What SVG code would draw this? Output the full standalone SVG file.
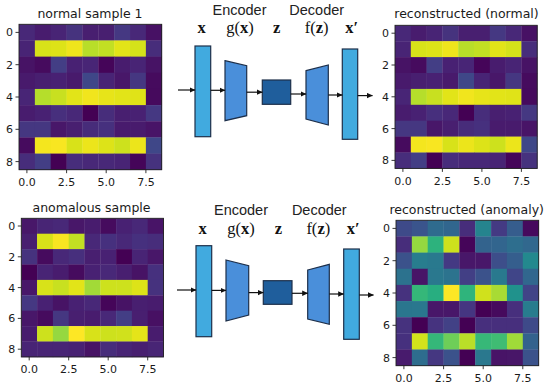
<svg xmlns="http://www.w3.org/2000/svg" width="550" height="387" viewBox="0 0 550 387">
<style>
.title{font-family:"DejaVu Sans",sans-serif;font-size:12.5px;fill:#1a1a1a;text-anchor:middle}
.tk{font-family:"DejaVu Sans",sans-serif;font-size:11px;fill:#1a1a1a}
.tky{text-anchor:end}
.tkx{text-anchor:middle}
.frame{fill:none;stroke:#222;stroke-width:0.9}
.tick{stroke:#222;stroke-width:0.9}
.lbl{font-family:"Liberation Sans",Arial,sans-serif;font-size:14.5px;fill:#222;text-anchor:middle}
.sym{font-family:"Liberation Serif","Times New Roman",serif;font-size:16.5px;fill:#111;text-anchor:middle}
.b{font-weight:bold}
.inp{fill:#41aadf;stroke:#1d2f4a;stroke-width:1.2}
.enc{fill:#4a8fda;stroke:#1d2f4a;stroke-width:1.2}
.lat{fill:#1f5e9c;stroke:#1d2f4a;stroke-width:1.2}
.arr{stroke:#111;stroke-width:1.2;fill:none;marker-end:url(#ah)}
</style>
<defs>
<marker id="ah" markerWidth="6" markerHeight="6" refX="5.5" refY="3" orient="auto" markerUnits="userSpaceOnUse">
<path d="M0,0.3 L5.8,3 L0,5.7 z" fill="#111"/>
</marker>
<g id="normalCells">
<rect x="0" y="0" width="1.02" height="1.02" fill="#482878"/><rect x="1" y="0" width="1.02" height="1.02" fill="#481c6e"/><rect x="2" y="0" width="1.02" height="1.02" fill="#482475"/><rect x="3" y="0" width="1.02" height="1.02" fill="#46337e"/><rect x="4" y="0" width="1.02" height="1.02" fill="#481f70"/><rect x="5" y="0" width="1.02" height="1.02" fill="#481f70"/><rect x="6" y="0" width="1.02" height="1.02" fill="#453882"/><rect x="7" y="0" width="1.02" height="1.02" fill="#482878"/><rect x="8" y="0" width="1.02" height="1.02" fill="#471164"/>
<rect x="0" y="1" width="1.02" height="1.02" fill="#482475"/><rect x="1" y="1" width="1.02" height="1.02" fill="#d8e219"/><rect x="2" y="1" width="1.02" height="1.02" fill="#dde318"/><rect x="3" y="1" width="1.02" height="1.02" fill="#efe51c"/><rect x="4" y="1" width="1.02" height="1.02" fill="#b8de29"/><rect x="5" y="1" width="1.02" height="1.02" fill="#c2df23"/><rect x="6" y="1" width="1.02" height="1.02" fill="#e2e418"/><rect x="7" y="1" width="1.02" height="1.02" fill="#d5e21a"/><rect x="8" y="1" width="1.02" height="1.02" fill="#472d7b"/>
<rect x="0" y="2" width="1.02" height="1.02" fill="#471365"/><rect x="1" y="2" width="1.02" height="1.02" fill="#460b5e"/><rect x="2" y="2" width="1.02" height="1.02" fill="#433e85"/><rect x="3" y="2" width="1.02" height="1.02" fill="#482173"/><rect x="4" y="2" width="1.02" height="1.02" fill="#482576"/><rect x="5" y="2" width="1.02" height="1.02" fill="#450559"/><rect x="6" y="2" width="1.02" height="1.02" fill="#481c6e"/><rect x="7" y="2" width="1.02" height="1.02" fill="#482475"/><rect x="8" y="2" width="1.02" height="1.02" fill="#471365"/>
<rect x="0" y="3" width="1.02" height="1.02" fill="#481a6c"/><rect x="1" y="3" width="1.02" height="1.02" fill="#481f70"/><rect x="2" y="3" width="1.02" height="1.02" fill="#482173"/><rect x="3" y="3" width="1.02" height="1.02" fill="#481a6c"/><rect x="4" y="3" width="1.02" height="1.02" fill="#3f4788"/><rect x="5" y="3" width="1.02" height="1.02" fill="#482475"/><rect x="6" y="3" width="1.02" height="1.02" fill="#481769"/><rect x="7" y="3" width="1.02" height="1.02" fill="#453781"/><rect x="8" y="3" width="1.02" height="1.02" fill="#460b5e"/>
<rect x="0" y="4" width="1.02" height="1.02" fill="#482576"/><rect x="1" y="4" width="1.02" height="1.02" fill="#b5de2b"/><rect x="2" y="4" width="1.02" height="1.02" fill="#c8e020"/><rect x="3" y="4" width="1.02" height="1.02" fill="#e2e418"/><rect x="4" y="4" width="1.02" height="1.02" fill="#f1e51d"/><rect x="5" y="4" width="1.02" height="1.02" fill="#e7e419"/><rect x="6" y="4" width="1.02" height="1.02" fill="#e2e418"/><rect x="7" y="4" width="1.02" height="1.02" fill="#e0e318"/><rect x="8" y="4" width="1.02" height="1.02" fill="#460a5d"/>
<rect x="0" y="5" width="1.02" height="1.02" fill="#481c6e"/><rect x="1" y="5" width="1.02" height="1.02" fill="#482173"/><rect x="2" y="5" width="1.02" height="1.02" fill="#472f7d"/><rect x="3" y="5" width="1.02" height="1.02" fill="#482878"/><rect x="4" y="5" width="1.02" height="1.02" fill="#440154"/><rect x="5" y="5" width="1.02" height="1.02" fill="#472d7b"/><rect x="6" y="5" width="1.02" height="1.02" fill="#481f70"/><rect x="7" y="5" width="1.02" height="1.02" fill="#482173"/><rect x="8" y="5" width="1.02" height="1.02" fill="#453882"/>
<rect x="0" y="6" width="1.02" height="1.02" fill="#453781"/><rect x="1" y="6" width="1.02" height="1.02" fill="#453781"/><rect x="2" y="6" width="1.02" height="1.02" fill="#481769"/><rect x="3" y="6" width="1.02" height="1.02" fill="#481f70"/><rect x="4" y="6" width="1.02" height="1.02" fill="#472c7a"/><rect x="5" y="6" width="1.02" height="1.02" fill="#46307e"/><rect x="6" y="6" width="1.02" height="1.02" fill="#481b6d"/><rect x="7" y="6" width="1.02" height="1.02" fill="#481b6d"/><rect x="8" y="6" width="1.02" height="1.02" fill="#481467"/>
<rect x="0" y="7" width="1.02" height="1.02" fill="#460b5e"/><rect x="1" y="7" width="1.02" height="1.02" fill="#f4e61e"/><rect x="2" y="7" width="1.02" height="1.02" fill="#f8e621"/><rect x="3" y="7" width="1.02" height="1.02" fill="#d8e219"/><rect x="4" y="7" width="1.02" height="1.02" fill="#ece51b"/><rect x="5" y="7" width="1.02" height="1.02" fill="#dde318"/><rect x="6" y="7" width="1.02" height="1.02" fill="#cde11d"/><rect x="7" y="7" width="1.02" height="1.02" fill="#ece51b"/><rect x="8" y="7" width="1.02" height="1.02" fill="#3f4788"/>
<rect x="0" y="8" width="1.02" height="1.02" fill="#472d7b"/><rect x="1" y="8" width="1.02" height="1.02" fill="#433e85"/><rect x="2" y="8" width="1.02" height="1.02" fill="#440154"/><rect x="3" y="8" width="1.02" height="1.02" fill="#472d7b"/><rect x="4" y="8" width="1.02" height="1.02" fill="#482878"/><rect x="5" y="8" width="1.02" height="1.02" fill="#482878"/><rect x="6" y="8" width="1.02" height="1.02" fill="#482475"/><rect x="7" y="8" width="1.02" height="1.02" fill="#450559"/><rect x="8" y="8" width="1.02" height="1.02" fill="#46327e"/>
</g>
</defs>
<rect width="550" height="387" fill="#fff"/>

<!-- Top-left heatmap -->
<g id="normal-sample">
<text class="title" x="90" y="17.5">normal sample 1</text>
<use href="#normalCells" transform="translate(19,24.3) scale(15.86,16.16)"/>
<rect class="frame" x="19" y="24.3" width="142.7" height="145.4"/>
<g class="tick">
<line x1="15.5" y1="32.4" x2="19" y2="32.4"/><line x1="15.5" y1="64.7" x2="19" y2="64.7"/><line x1="15.5" y1="97" x2="19" y2="97"/><line x1="15.5" y1="129.3" x2="19" y2="129.3"/><line x1="15.5" y1="161.6" x2="19" y2="161.6"/>
<line x1="26.9" y1="169.7" x2="26.9" y2="173.2"/><line x1="66.6" y1="169.7" x2="66.6" y2="173.2"/><line x1="106.2" y1="169.7" x2="106.2" y2="173.2"/><line x1="145.9" y1="169.7" x2="145.9" y2="173.2"/>
</g>
<text class="tk tky" x="13" y="36.4">0</text><text class="tk tky" x="13" y="68.7">2</text><text class="tk tky" x="13" y="101">4</text><text class="tk tky" x="13" y="133.3">6</text><text class="tk tky" x="13" y="165.6">8</text>
<text class="tk tkx" x="26.9" y="185.5">0.0</text><text class="tk tkx" x="66.6" y="185.5">2.5</text><text class="tk tkx" x="106.2" y="185.5">5.0</text><text class="tk tkx" x="145.9" y="185.5">7.5</text>
</g>

<!-- Top-right heatmap -->
<g id="reconstructed-normal">
<text class="title" x="466.5" y="18.3">reconstructed (normal)</text>
<use href="#normalCells" transform="translate(395,25.3) scale(15.8,15.9)"/>
<rect class="frame" x="395" y="25.3" width="142.2" height="143.1"/>
<g class="tick">
<line x1="391.5" y1="33.2" x2="395" y2="33.2"/><line x1="391.5" y1="65" x2="395" y2="65"/><line x1="391.5" y1="96.8" x2="395" y2="96.8"/><line x1="391.5" y1="128.6" x2="395" y2="128.6"/><line x1="391.5" y1="160.4" x2="395" y2="160.4"/>
<line x1="402.9" y1="168.4" x2="402.9" y2="171.9"/><line x1="442.4" y1="168.4" x2="442.4" y2="171.9"/><line x1="481.9" y1="168.4" x2="481.9" y2="171.9"/><line x1="521.4" y1="168.4" x2="521.4" y2="171.9"/>
</g>
<text class="tk tky" x="389" y="37.2">0</text><text class="tk tky" x="389" y="69">2</text><text class="tk tky" x="389" y="100.8">4</text><text class="tk tky" x="389" y="132.6">6</text><text class="tk tky" x="389" y="164.4">8</text>
<text class="tk tkx" x="402.9" y="184.5">0.0</text><text class="tk tkx" x="442.4" y="184.5">2.5</text><text class="tk tkx" x="481.9" y="184.5">5.0</text><text class="tk tkx" x="521.4" y="184.5">7.5</text>
</g>

<!-- Bottom-left heatmap -->
<g id="anomalous-sample">
<text class="title" x="91.5" y="211.7">anomalous sample</text>
<g transform="translate(21.3,218.3) scale(15.8,15.4)">
<rect x="0" y="0" width="1.02" height="1.02" fill="#481769"/><rect x="1" y="0" width="1.02" height="1.02" fill="#482575"/><rect x="2" y="0" width="1.02" height="1.02" fill="#482878"/><rect x="3" y="0" width="1.02" height="1.02" fill="#481769"/><rect x="4" y="0" width="1.02" height="1.02" fill="#481c6e"/><rect x="5" y="0" width="1.02" height="1.02" fill="#460b5e"/><rect x="6" y="0" width="1.02" height="1.02" fill="#482173"/><rect x="7" y="0" width="1.02" height="1.02" fill="#482878"/><rect x="8" y="0" width="1.02" height="1.02" fill="#481467"/>
<rect x="0" y="1" width="1.02" height="1.02" fill="#481f70"/><rect x="1" y="1" width="1.02" height="1.02" fill="#d8e219"/><rect x="2" y="1" width="1.02" height="1.02" fill="#f8e621"/><rect x="3" y="1" width="1.02" height="1.02" fill="#c2df23"/><rect x="4" y="1" width="1.02" height="1.02" fill="#482878"/><rect x="5" y="1" width="1.02" height="1.02" fill="#46307e"/><rect x="6" y="1" width="1.02" height="1.02" fill="#482878"/><rect x="7" y="1" width="1.02" height="1.02" fill="#46307e"/><rect x="8" y="1" width="1.02" height="1.02" fill="#472d7b"/>
<rect x="0" y="2" width="1.02" height="1.02" fill="#46327e"/><rect x="1" y="2" width="1.02" height="1.02" fill="#460b5e"/><rect x="2" y="2" width="1.02" height="1.02" fill="#482878"/><rect x="3" y="2" width="1.02" height="1.02" fill="#472f7d"/><rect x="4" y="2" width="1.02" height="1.02" fill="#481f70"/><rect x="5" y="2" width="1.02" height="1.02" fill="#482173"/><rect x="6" y="2" width="1.02" height="1.02" fill="#440154"/><rect x="7" y="2" width="1.02" height="1.02" fill="#482475"/><rect x="8" y="2" width="1.02" height="1.02" fill="#481769"/>
<rect x="0" y="3" width="1.02" height="1.02" fill="#440154"/><rect x="1" y="3" width="1.02" height="1.02" fill="#482475"/><rect x="2" y="3" width="1.02" height="1.02" fill="#481c6e"/><rect x="3" y="3" width="1.02" height="1.02" fill="#460b5e"/><rect x="4" y="3" width="1.02" height="1.02" fill="#482173"/><rect x="5" y="3" width="1.02" height="1.02" fill="#482878"/><rect x="6" y="3" width="1.02" height="1.02" fill="#481f70"/><rect x="7" y="3" width="1.02" height="1.02" fill="#471365"/><rect x="8" y="3" width="1.02" height="1.02" fill="#46307e"/>
<rect x="0" y="4" width="1.02" height="1.02" fill="#481769"/><rect x="1" y="4" width="1.02" height="1.02" fill="#d8e219"/><rect x="2" y="4" width="1.02" height="1.02" fill="#c8e020"/><rect x="3" y="4" width="1.02" height="1.02" fill="#e2e418"/><rect x="4" y="4" width="1.02" height="1.02" fill="#a2da37"/><rect x="5" y="4" width="1.02" height="1.02" fill="#cde11d"/><rect x="6" y="4" width="1.02" height="1.02" fill="#cde11d"/><rect x="7" y="4" width="1.02" height="1.02" fill="#dde318"/><rect x="8" y="4" width="1.02" height="1.02" fill="#46327e"/>
<rect x="0" y="5" width="1.02" height="1.02" fill="#453882"/><rect x="1" y="5" width="1.02" height="1.02" fill="#482173"/><rect x="2" y="5" width="1.02" height="1.02" fill="#471365"/><rect x="3" y="5" width="1.02" height="1.02" fill="#482173"/><rect x="4" y="5" width="1.02" height="1.02" fill="#482878"/><rect x="5" y="5" width="1.02" height="1.02" fill="#450559"/><rect x="6" y="5" width="1.02" height="1.02" fill="#471365"/><rect x="7" y="5" width="1.02" height="1.02" fill="#481f70"/><rect x="8" y="5" width="1.02" height="1.02" fill="#481c6e"/>
<rect x="0" y="6" width="1.02" height="1.02" fill="#481769"/><rect x="1" y="6" width="1.02" height="1.02" fill="#460b5e"/><rect x="2" y="6" width="1.02" height="1.02" fill="#453781"/><rect x="3" y="6" width="1.02" height="1.02" fill="#481f70"/><rect x="4" y="6" width="1.02" height="1.02" fill="#481c6e"/><rect x="5" y="6" width="1.02" height="1.02" fill="#482878"/><rect x="6" y="6" width="1.02" height="1.02" fill="#433e85"/><rect x="7" y="6" width="1.02" height="1.02" fill="#481f70"/><rect x="8" y="6" width="1.02" height="1.02" fill="#471063"/>
<rect x="0" y="7" width="1.02" height="1.02" fill="#481c6e"/><rect x="1" y="7" width="1.02" height="1.02" fill="#cde11d"/><rect x="2" y="7" width="1.02" height="1.02" fill="#95d840"/><rect x="3" y="7" width="1.02" height="1.02" fill="#fde725"/><rect x="4" y="7" width="1.02" height="1.02" fill="#d8e219"/><rect x="5" y="7" width="1.02" height="1.02" fill="#cde11d"/><rect x="6" y="7" width="1.02" height="1.02" fill="#d0e11c"/><rect x="7" y="7" width="1.02" height="1.02" fill="#e5e419"/><rect x="8" y="7" width="1.02" height="1.02" fill="#481c6e"/>
<rect x="0" y="8" width="1.02" height="1.02" fill="#482475"/><rect x="1" y="8" width="1.02" height="1.02" fill="#482475"/><rect x="2" y="8" width="1.02" height="1.02" fill="#482475"/><rect x="3" y="8" width="1.02" height="1.02" fill="#482173"/><rect x="4" y="8" width="1.02" height="1.02" fill="#471365"/><rect x="5" y="8" width="1.02" height="1.02" fill="#472d7b"/><rect x="6" y="8" width="1.02" height="1.02" fill="#482475"/><rect x="7" y="8" width="1.02" height="1.02" fill="#481f70"/><rect x="8" y="8" width="1.02" height="1.02" fill="#482575"/>
</g>
<rect class="frame" x="21.3" y="218.3" width="142.2" height="138.6"/>
<g class="tick">
<line x1="17.8" y1="226" x2="21.3" y2="226"/><line x1="17.8" y1="256.8" x2="21.3" y2="256.8"/><line x1="17.8" y1="287.6" x2="21.3" y2="287.6"/><line x1="17.8" y1="318.4" x2="21.3" y2="318.4"/><line x1="17.8" y1="349.2" x2="21.3" y2="349.2"/>
<line x1="29.2" y1="356.9" x2="29.2" y2="360.4"/><line x1="68.7" y1="356.9" x2="68.7" y2="360.4"/><line x1="108.2" y1="356.9" x2="108.2" y2="360.4"/><line x1="147.7" y1="356.9" x2="147.7" y2="360.4"/>
</g>
<text class="tk tky" x="15.3" y="230">0</text><text class="tk tky" x="15.3" y="260.8">2</text><text class="tk tky" x="15.3" y="291.6">4</text><text class="tk tky" x="15.3" y="322.4">6</text><text class="tk tky" x="15.3" y="353.2">8</text>
<text class="tk tkx" x="29.2" y="372.5">0.0</text><text class="tk tkx" x="68.7" y="372.5">2.5</text><text class="tk tkx" x="108.2" y="372.5">5.0</text><text class="tk tkx" x="147.7" y="372.5">7.5</text>
</g>

<!-- Bottom-right heatmap -->
<g id="reconstructed-anomaly">
<text class="title" x="466.7" y="214">reconstructed (anomaly)</text>
<g transform="translate(396,220.3) scale(15.85,16.15)">
<rect x="0" y="0" width="1.02" height="1.02" fill="#3e4a89"/><rect x="1" y="0" width="1.02" height="1.02" fill="#3a548c"/><rect x="2" y="0" width="1.02" height="1.02" fill="#2f6b8e"/><rect x="3" y="0" width="1.02" height="1.02" fill="#31668e"/><rect x="4" y="0" width="1.02" height="1.02" fill="#472d7b"/><rect x="5" y="0" width="1.02" height="1.02" fill="#25848e"/><rect x="6" y="0" width="1.02" height="1.02" fill="#443a83"/><rect x="7" y="0" width="1.02" height="1.02" fill="#365d8d"/><rect x="8" y="0" width="1.02" height="1.02" fill="#460a5d"/>
<rect x="0" y="1" width="1.02" height="1.02" fill="#472d7b"/><rect x="1" y="1" width="1.02" height="1.02" fill="#95d840"/><rect x="2" y="1" width="1.02" height="1.02" fill="#2db27d"/><rect x="3" y="1" width="1.02" height="1.02" fill="#cde11d"/><rect x="4" y="1" width="1.02" height="1.02" fill="#450559"/><rect x="5" y="1" width="1.02" height="1.02" fill="#33638d"/><rect x="6" y="1" width="1.02" height="1.02" fill="#32658e"/><rect x="7" y="1" width="1.02" height="1.02" fill="#2e6e8e"/><rect x="8" y="1" width="1.02" height="1.02" fill="#31688e"/>
<rect x="0" y="2" width="1.02" height="1.02" fill="#3b528b"/><rect x="1" y="2" width="1.02" height="1.02" fill="#287d8e"/><rect x="2" y="2" width="1.02" height="1.02" fill="#29798e"/><rect x="3" y="2" width="1.02" height="1.02" fill="#443983"/><rect x="4" y="2" width="1.02" height="1.02" fill="#481769"/><rect x="5" y="2" width="1.02" height="1.02" fill="#481769"/><rect x="6" y="2" width="1.02" height="1.02" fill="#3d4e8a"/><rect x="7" y="2" width="1.02" height="1.02" fill="#355e8d"/><rect x="8" y="2" width="1.02" height="1.02" fill="#23898e"/>
<rect x="0" y="3" width="1.02" height="1.02" fill="#2c728e"/><rect x="1" y="3" width="1.02" height="1.02" fill="#481467"/><rect x="2" y="3" width="1.02" height="1.02" fill="#2a788e"/><rect x="3" y="3" width="1.02" height="1.02" fill="#2c738e"/><rect x="4" y="3" width="1.02" height="1.02" fill="#423f85"/><rect x="5" y="3" width="1.02" height="1.02" fill="#3b528b"/><rect x="6" y="3" width="1.02" height="1.02" fill="#29798e"/><rect x="7" y="3" width="1.02" height="1.02" fill="#404588"/><rect x="8" y="3" width="1.02" height="1.02" fill="#31678e"/>
<rect x="0" y="4" width="1.02" height="1.02" fill="#46327e"/><rect x="1" y="4" width="1.02" height="1.02" fill="#35b779"/><rect x="2" y="4" width="1.02" height="1.02" fill="#28ae80"/><rect x="3" y="4" width="1.02" height="1.02" fill="#fde725"/><rect x="4" y="4" width="1.02" height="1.02" fill="#2fb47c"/><rect x="5" y="4" width="1.02" height="1.02" fill="#d0e11c"/><rect x="6" y="4" width="1.02" height="1.02" fill="#a8db34"/><rect x="7" y="4" width="1.02" height="1.02" fill="#20928c"/><rect x="8" y="4" width="1.02" height="1.02" fill="#414487"/>
<rect x="0" y="5" width="1.02" height="1.02" fill="#2a768e"/><rect x="1" y="5" width="1.02" height="1.02" fill="#2a778e"/><rect x="2" y="5" width="1.02" height="1.02" fill="#481769"/><rect x="3" y="5" width="1.02" height="1.02" fill="#481769"/><rect x="4" y="5" width="1.02" height="1.02" fill="#453581"/><rect x="5" y="5" width="1.02" height="1.02" fill="#440154"/><rect x="6" y="5" width="1.02" height="1.02" fill="#460a5d"/><rect x="7" y="5" width="1.02" height="1.02" fill="#472f7d"/><rect x="8" y="5" width="1.02" height="1.02" fill="#287c8e"/>
<rect x="0" y="6" width="1.02" height="1.02" fill="#46327e"/><rect x="1" y="6" width="1.02" height="1.02" fill="#440154"/><rect x="2" y="6" width="1.02" height="1.02" fill="#46337f"/><rect x="3" y="6" width="1.02" height="1.02" fill="#424186"/><rect x="4" y="6" width="1.02" height="1.02" fill="#440154"/><rect x="5" y="6" width="1.02" height="1.02" fill="#472f7d"/><rect x="6" y="6" width="1.02" height="1.02" fill="#472f7d"/><rect x="7" y="6" width="1.02" height="1.02" fill="#472f7d"/><rect x="8" y="6" width="1.02" height="1.02" fill="#3e4a89"/>
<rect x="0" y="7" width="1.02" height="1.02" fill="#46307e"/><rect x="1" y="7" width="1.02" height="1.02" fill="#d2e21b"/><rect x="2" y="7" width="1.02" height="1.02" fill="#35b779"/><rect x="3" y="7" width="1.02" height="1.02" fill="#6ece58"/><rect x="4" y="7" width="1.02" height="1.02" fill="#bade28"/><rect x="5" y="7" width="1.02" height="1.02" fill="#37b878"/><rect x="6" y="7" width="1.02" height="1.02" fill="#3fbc73"/><rect x="7" y="7" width="1.02" height="1.02" fill="#a0da39"/><rect x="8" y="7" width="1.02" height="1.02" fill="#33628d"/>
<rect x="0" y="8" width="1.02" height="1.02" fill="#481b6d"/><rect x="1" y="8" width="1.02" height="1.02" fill="#2e6d8e"/><rect x="2" y="8" width="1.02" height="1.02" fill="#453781"/><rect x="3" y="8" width="1.02" height="1.02" fill="#3b528b"/><rect x="4" y="8" width="1.02" height="1.02" fill="#440154"/><rect x="5" y="8" width="1.02" height="1.02" fill="#2a788e"/><rect x="6" y="8" width="1.02" height="1.02" fill="#481467"/><rect x="7" y="8" width="1.02" height="1.02" fill="#481668"/><rect x="8" y="8" width="1.02" height="1.02" fill="#3b528b"/>
</g>
<rect class="frame" x="396" y="220.3" width="142.7" height="145.4"/>
<g class="tick">
<line x1="392.5" y1="228.4" x2="396" y2="228.4"/><line x1="392.5" y1="260.7" x2="396" y2="260.7"/><line x1="392.5" y1="293" x2="396" y2="293"/><line x1="392.5" y1="325.3" x2="396" y2="325.3"/><line x1="392.5" y1="357.6" x2="396" y2="357.6"/>
<line x1="403.9" y1="365.7" x2="403.9" y2="369.2"/><line x1="443.6" y1="365.7" x2="443.6" y2="369.2"/><line x1="483.2" y1="365.7" x2="483.2" y2="369.2"/><line x1="522.8" y1="365.7" x2="522.8" y2="369.2"/>
</g>
<text class="tk tky" x="390" y="232.4">0</text><text class="tk tky" x="390" y="264.7">2</text><text class="tk tky" x="390" y="297">4</text><text class="tk tky" x="390" y="329.3">6</text><text class="tk tky" x="390" y="361.6">8</text>
<text class="tk tkx" x="403.9" y="381.5">0.0</text><text class="tk tkx" x="443.6" y="381.5">2.5</text><text class="tk tkx" x="483.2" y="381.5">5.0</text><text class="tk tkx" x="522.8" y="381.5">7.5</text>
</g>

<!-- Top autoencoder -->
<g id="top-labels">
<text class="lbl" x="239.5" y="15">Encoder</text>
<text class="lbl" x="316.7" y="15">Decoder</text>
</g>
<g id="top-x">
<text class="sym b" x="201.7" y="33">x</text>
<rect class="inp" x="195" y="46" width="15.7" height="90.7"/>
</g>
<g id="top-encoder">
<text class="sym" x="240" y="33">g(<tspan class="b">x</tspan>)</text>
<polygon class="enc" points="225,60.7 246.7,65.7 246.7,115.7 225,120.7"/>
</g>
<g id="top-z">
<text class="sym b" x="276.7" y="33">z</text>
<rect class="lat" x="262.3" y="80" width="28.4" height="24.3"/>
</g>
<g id="top-decoder">
<text class="sym" x="316.7" y="33">f(<tspan class="b">z</tspan>)</text>
<polygon class="enc" points="306,70.7 328.3,65 328.3,125 306,119"/>
</g>
<g id="top-xprime">
<text class="sym b" x="351.7" y="33">x′</text>
<rect class="inp" x="342.3" y="49" width="15.4" height="90.3"/>
</g>

<!-- Bottom autoencoder -->
<g id="bottom-labels">
<text class="lbl" x="241" y="215">Encoder</text>
<text class="lbl" x="319.3" y="215">Decoder</text>
</g>
<g id="bottom-x">
<text class="sym b" x="202.7" y="234">x</text>
<rect class="inp" x="196" y="245.7" width="15.7" height="91"/>
</g>
<g id="bottom-encoder">
<text class="sym" x="241" y="234">g(<tspan class="b">x</tspan>)</text>
<polygon class="enc" points="226,260 248.7,265.7 248.7,315 226,321"/>
</g>
<g id="bottom-z">
<text class="sym b" x="278.3" y="234">z</text>
<rect class="lat" x="263.3" y="280.7" width="28.7" height="23.6"/>
</g>
<g id="bottom-decoder">
<text class="sym" x="318.3" y="234">f(<tspan class="b">z</tspan>)</text>
<polygon class="enc" points="307.7,270 329.3,264.3 329.3,324.3 307.7,319"/>
</g>
<g id="bottom-xprime">
<text class="sym b" x="353.3" y="234">x′</text>
<rect class="inp" x="343.7" y="249" width="15.6" height="90.3"/>
</g>

<!-- Connectors -->
<g id="connectors">
<line class="arr" x1="178" y1="90" x2="195" y2="90"/>
<line class="arr" x1="210.7" y1="90.3" x2="225" y2="90.3"/>
<line class="arr" x1="246.7" y1="92.2" x2="262.3" y2="92.2"/>
<line class="arr" x1="290.7" y1="94" x2="306" y2="94"/>
<line class="arr" x1="328.3" y1="95" x2="342.3" y2="95"/>
<line class="arr" x1="357.7" y1="95.6" x2="372.5" y2="95.6"/>
<line class="arr" x1="177" y1="290" x2="196" y2="290"/>
<line class="arr" x1="211.7" y1="290.4" x2="226" y2="290.4"/>
<line class="arr" x1="248.7" y1="292.6" x2="263.3" y2="292.6"/>
<line class="arr" x1="292" y1="293.3" x2="307.7" y2="293.3"/>
<line class="arr" x1="329.3" y1="294" x2="343.7" y2="294"/>
<line class="arr" x1="359.3" y1="295" x2="373.5" y2="295"/>
</g>
</svg>
